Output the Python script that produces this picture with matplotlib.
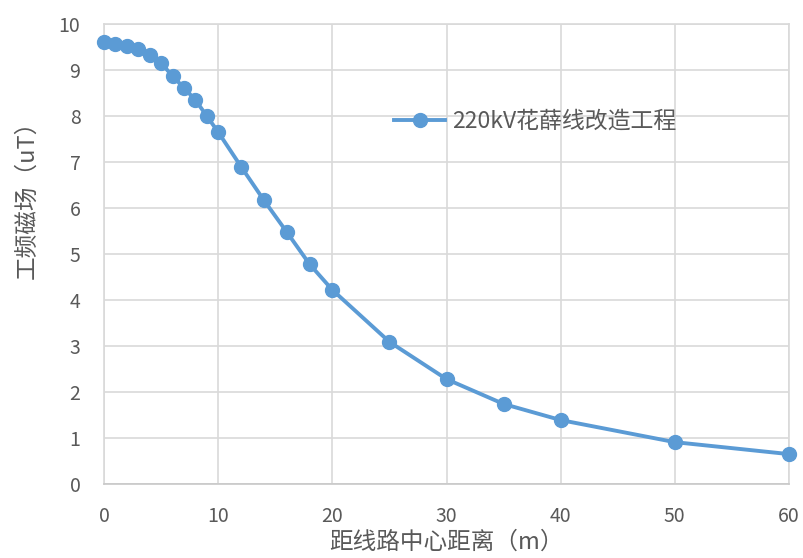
import matplotlib
matplotlib.use("Agg")
import matplotlib.pyplot as plt

plt.rcParams['font.family'] = ['Noto Sans CJK SC', 'DejaVu Sans']

# distance from line centre (m) and power-frequency magnetic field (uT)
distance = [0, 1, 2, 3, 4, 5, 6, 7, 8, 9, 10, 12, 14, 16, 18, 20, 25, 30, 35, 40, 50, 60]
field = [9.61, 9.57, 9.53, 9.45, 9.33, 9.15, 8.87, 8.61, 8.35, 8.0, 7.65,
         6.9, 6.17, 5.48, 4.78, 4.22, 3.09, 2.28, 1.74, 1.39, 0.91, 0.65]
series_name = "220kV花薛线改造工程"
x_ticks = [0, 10, 20, 30, 40, 50, 60]
y_ticks = [0, 1, 2, 3, 4, 5, 6, 7, 8, 9, 10]

txt = "#595959"
grid = "#d9d9d9"
blue = "#5b9bd5"

fig = plt.figure(figsize=(8.04, 5.58), dpi=100)
ax = fig.add_axes([0.1294, 0.1326, 0.8519, 0.8244])

ax.plot(distance, field, color=blue, lw=2.8, marker="o", ms=10,
        label=series_name, clip_on=False, zorder=3)

ax.set_xlim(0, 60)
ax.set_ylim(0, 10)
ax.set_xticks(x_ticks)
ax.set_yticks(y_ticks)
ax.grid(True, color=grid, lw=1.2)
ax.set_axisbelow(True)
for s in ax.spines.values():
    s.set_color(grid)
    s.set_linewidth(1.2)
ax.spines['bottom'].set_color("#c8c8c8")
ax.tick_params(length=0, labelsize=14, colors=txt)
ax.tick_params(axis='y', pad=17)
ax.tick_params(axis='x', pad=16)

ax.set_xlabel("距线路中心距离（m）", fontsize=17, color=txt)
ax.xaxis.set_label_coords(0.5, -0.102)
ax.set_ylabel("工频磁场（uT）", fontsize=17, color=txt)
ax.yaxis.set_label_coords(-0.095, 0.63)

leg = ax.legend(loc="center left", bbox_to_anchor=(0.423, 0.788), frameon=False,
                fontsize=16.5, handlelength=2.25, handletextpad=0.3,
                labelcolor=txt, borderaxespad=0, borderpad=0)

fig.savefig("out.png", dpi=100)
